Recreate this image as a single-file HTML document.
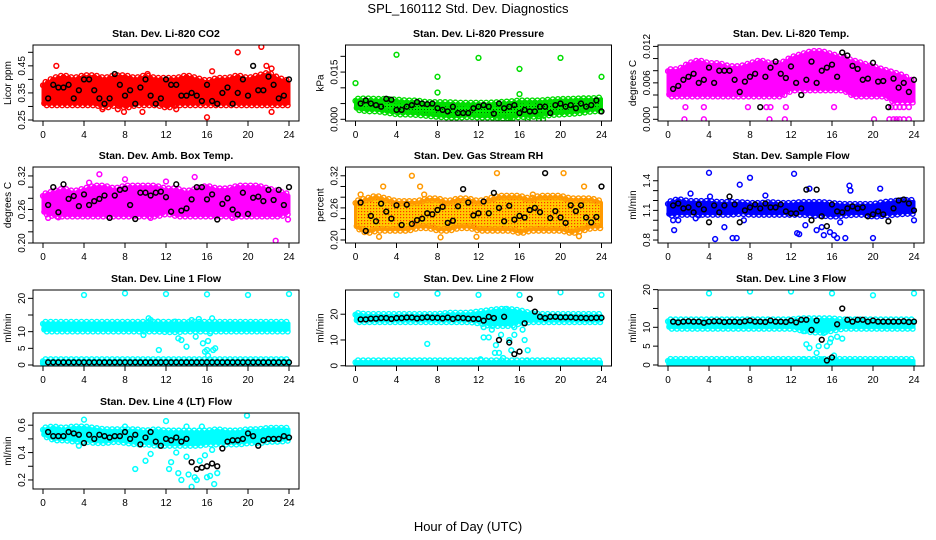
<!DOCTYPE html>
<html><head><meta charset="utf-8">
<style>
html,body{margin:0;padding:0;background:#fff;}
svg{display:block;font-family:"Liberation Sans",sans-serif;}
</style></head>
<body>
<svg id="chart" width="936" height="540" viewBox="0 0 936 540">
<defs>
<pattern id="patGreen" width="3" height="3" patternUnits="userSpaceOnUse"><rect width="3" height="3" fill="#00ee00"/><rect x="1" y="1" width="1" height="1" fill="#004400"/></pattern>
<pattern id="patOrange" width="3" height="3" patternUnits="userSpaceOnUse"><rect width="3" height="3" fill="#ffcc00"/><rect x="1" y="1" width="1.2" height="1.2" fill="#ff3300"/></pattern>
</defs>
<text x="468" y="13" text-anchor="middle" font-size="13">SPL_160112  Std. Dev. Diagnostics</text>
<text x="468" y="531" text-anchor="middle" font-size="13">Hour of Day (UTC)</text>
<g id="panels"></g>
</svg>
<script>
const blackHours = [0.5,1,1.5,2,2.5,3,3.5,4,4.5,5,5.5,6,6.5,7,7.5,8,8.5,9,9.5,10,10.5,11,11.5,12,12.5,13,13.5,14,14.5,15,15.5,16,16.5,17,17.5,18,18.5,19,19.5,20,20.5,21,21.5,22,22.5,23,23.5,24];
const bandHours = [0,1,2,3,4,5,6,7,8,9,10,11,12,13,14,15,16,17,18,19,20,21,22,23,24];
const xTicks = [0,4,8,12,16,20,24];

const co2Lo = [0.31,0.31,0.31,0.31,0.31,0.31,0.30,0.31,0.30,0.31,0.31,0.31,0.30,0.31,0.31,0.31,0.31,0.31,0.31,0.31,0.31,0.31,0.31,0.31,0.31];
const co2Hi = [0.38,0.40,0.41,0.40,0.41,0.41,0.40,0.41,0.41,0.40,0.41,0.40,0.40,0.40,0.41,0.40,0.39,0.40,0.40,0.41,0.40,0.41,0.42,0.40,0.39];
const co2OutX = [1.3,16,7.9,9.7,19,21.3,21.8,22.3,22.3,16.5,5.8,13,7.3,10.2];
const co2OutY = [0.45,0.26,0.28,0.28,0.50,0.52,0.45,0.44,0.28,0.43,0.29,0.29,0.29,0.42];
const co2Black = [0.33,0.38,0.37,0.37,0.38,0.33,0.36,0.40,0.40,0.36,0.33,0.31,0.33,0.42,0.38,0.34,0.36,0.31,0.37,0.40,0.34,0.31,0.33,0.40,0.38,0.38,0.34,0.34,0.35,0.34,0.32,0.38,0.32,0.31,0.35,0.37,0.31,0.35,0.40,0.34,0.45,0.36,0.36,0.41,0.38,0.33,0.34,0.40];
const presLo = [0.0035,0.003,0.003,0.0025,0.002,0.002,0.0018,0.0015,0.0012,0.001,0.001,0.0012,0.001,0.001,0.0008,0.0008,0.0012,0.0012,0.0015,0.0018,0.002,0.0022,0.0025,0.003,0.003];
const presHi = [0.006,0.0062,0.006,0.006,0.0058,0.0055,0.0055,0.005,0.005,0.005,0.0048,0.0048,0.0048,0.0048,0.005,0.0052,0.0055,0.0055,0.0055,0.0058,0.006,0.006,0.0062,0.0062,0.0065];
const presOutX = [0,4,8,12,16,20,24,8,16,13.7,14.9,16.8,17.9,18.3,15.1];
const presOutY = [0.0115,0.0205,0.0135,0.0195,0.016,0.0195,0.0135,0.0085,0.008,0,0,0,0,0,0.0005];
const presBlack = [0.005,0.006,0.005,0.0045,0.004,0.0065,0.0062,0.003,0.003,0.004,0.0045,0.0055,0.005,0.0048,0.005,0.0035,0.003,0.0025,0.004,0.002,0.002,0.002,0.0035,0.004,0.0045,0.004,0.0018,0.005,0.0035,0.004,0.0045,0.002,0.003,0.0025,0.0025,0.004,0.004,0.002,0.0045,0.005,0.004,0.0045,0.0035,0.005,0.004,0.0045,0.006,0.0025];
const tempLo = [0.004,0.004,0.004,0.004,0.004,0.004,0.004,0.004,0.004,0.004,0.004,0.004,0.005,0.005,0.005,0.005,0.005,0.005,0.004,0.004,0.004,0.004,0.003,0.003,0.003];
const tempHi = [0.008,0.008,0.009,0.0095,0.009,0.009,0.0085,0.0085,0.009,0.0095,0.009,0.009,0.010,0.0105,0.011,0.011,0.0105,0.010,0.0095,0.009,0.0085,0.008,0.0075,0.007,0.006];
const tempOutX = [1.6,3.5,9.9,11.4,20.1,21.6,22,22.3,22.6,23,23.5,1.7,3.5,7.8,9.6,10,11.5,16.2,21.8,22.2,22.6,23,23.5,0.3];
const tempOutY = [0,0,0,0,0,0,0,0,0,0,0,0.002,0.002,0.002,0.002,0.002,0.002,0.002,0.002,0.002,0.002,0.002,0.002,0.0065];
const tempBlack = [0.005,0.0055,0.0065,0.007,0.0075,0.006,0.0065,0.0085,0.006,0.008,0.008,0.008,0.0065,0.0045,0.0062,0.007,0.0075,0.002,0.007,0.0085,0.0095,0.0075,0.0068,0.0087,0.006,0.004,0.0065,0.0095,0.006,0.008,0.0085,0.009,0.007,0.011,0.0105,0.0088,0.0083,0.0065,0.0067,0.0093,0.0062,0.0063,0.002,0.0067,0.0052,0.006,0.0045,0.0065];
const ambLo = [0.255,0.25,0.25,0.25,0.25,0.25,0.25,0.25,0.25,0.25,0.25,0.25,0.255,0.25,0.25,0.25,0.25,0.25,0.25,0.25,0.25,0.25,0.25,0.25,0.255];
const ambHi = [0.285,0.29,0.295,0.29,0.295,0.30,0.30,0.295,0.30,0.30,0.30,0.30,0.295,0.295,0.29,0.295,0.30,0.295,0.295,0.30,0.30,0.30,0.295,0.29,0.285];
const ambOutX = [22.7,5.5,8,12,14.8,4.5,23.9,10.5,18.5,0.5,1.5];
const ambOutY = [0.204,0.323,0.314,0.31,0.318,0.308,0.242,0.245,0.245,0.245,0.246];
const ambBlack = [0.268,0.30,0.255,0.305,0.279,0.284,0.266,0.287,0.268,0.275,0.279,0.285,0.245,0.285,0.295,0.297,0.268,0.243,0.29,0.29,0.285,0.29,0.292,0.282,0.256,0.305,0.258,0.262,0.278,0.30,0.30,0.278,0.287,0.242,0.27,0.28,0.26,0.251,0.29,0.252,0.281,0.283,0.275,0.295,0.277,0.295,0.268,0.30];
const rhLo = [0.225,0.215,0.22,0.22,0.22,0.22,0.225,0.225,0.22,0.22,0.225,0.225,0.22,0.22,0.22,0.22,0.215,0.22,0.22,0.22,0.22,0.215,0.22,0.225,0.225];
const rhHi = [0.27,0.275,0.28,0.275,0.27,0.27,0.27,0.275,0.275,0.27,0.275,0.275,0.27,0.275,0.28,0.28,0.28,0.275,0.28,0.28,0.28,0.275,0.275,0.275,0.27];
const rhOutX = [5.5,6.3,13.8,20.3,22.3,2.7,0.5,6.7,8.3,2.3,17.3,21.8,11.8];
const rhOutY = [0.32,0.30,0.325,0.325,0.30,0.30,0.285,0.285,0.205,0.206,0.285,0.207,0.206];
const rhBlack = [0.27,0.217,0.245,0.235,0.268,0.253,0.24,0.265,0.228,0.266,0.23,0.237,0.24,0.25,0.248,0.256,0.262,0.232,0.236,0.263,0.295,0.27,0.246,0.25,0.272,0.25,0.288,0.26,0.235,0.264,0.238,0.245,0.242,0.256,0.26,0.252,0.325,0.241,0.254,0.242,0.232,0.265,0.254,0.265,0.242,0.233,0.243,0.30];
const sfLo = [1.06,1.07,1.07,1.07,1.07,1.07,1.07,1.08,1.07,1.07,1.07,1.07,1.07,1.07,1.06,1.06,1.05,1.06,1.07,1.07,1.05,1.06,1.07,1.08,1.08];
const sfHi = [1.17,1.2,1.18,1.18,1.18,1.17,1.17,1.17,1.16,1.16,1.17,1.16,1.16,1.17,1.17,1.17,1.16,1.15,1.15,1.15,1.15,1.17,1.18,1.19,1.19];
const sfOutX = [0.6,0.5,1,2.2,4,4.6,5.5,6.3,6.7,7,8,7.4,12.3,12.6,12.8,9.5,13.8,15.2,16.2,16.5,17.3,17.7,17.8,20,20.7,24,4.1,3,2.7,13.4,14.5,15,15.8,16.8];
const sfOutY = [0.9,1.0,1.0,1.27,1.48,0.81,0.93,0.82,0.82,1.36,1.43,1.0,1.47,0.87,0.86,1.25,1.32,0.85,0.85,0.82,0.82,1.35,1.3,0.82,1.32,1.0,1.24,1.05,1.02,0.95,0.9,0.93,0.88,0.98];
const sfBlack = [1.15,1.17,1.12,1.13,1.08,1.16,1.11,0.98,1.15,1.08,1.15,1.24,1.16,0.98,1.1,1.13,1.16,1.12,1.17,1.13,1.13,1.16,1.09,1.07,1.07,1.12,1.31,1.0,1.31,1.04,0.94,1.16,1.09,1.08,1.12,1.14,1.12,1.13,1.04,1.06,1.09,1.06,0.99,1.12,1.2,1.21,1.17,1.1];
const l1Lo = [10.5,10.5,10.5,10.5,10.5,10.5,10.5,10.5,10.5,10.5,10.5,10.5,10.3,10.3,10.5,10.5,10.5,10.5,10.5,10.5,10.5,10.5,10.5,10.5,10.5];
const l1Hi = [12.5,12.5,12.5,12.5,12.5,12.5,12.5,12.5,12.5,12.5,12.5,12.5,12.5,12.5,12.5,12.5,12.5,12.5,12.5,12.5,12.5,12.5,12.5,12.5,12.5];
const l1Lo2 = [0.3,0.3,0.3,0.3,0.3,0.3,0.3,0.3,0.3,0.3,0.3,0.3,0.3,0.3,0.3,0.3,0.3,0.3,0.3,0.3,0.3,0.3,0.3,0.3,0.3];
const l1Hi2 = [1.3,1.3,1.3,1.3,1.3,1.3,1.3,1.3,1.3,1.3,1.3,1.3,1.3,1.3,1.3,1.3,1.3,1.3,1.3,1.3,1.3,1.3,1.3,1.3,1.3];
const l1OutX = [4,8,12,16,20,24,0,10.5,11.2,11.3,12.9,13.2,13.5,14.5,14.9,15.2,15.6,15.8,16,16.1,16.3,16.5,16.6,16.8,9.8,10.3,14,16.1];
const l1OutY = [21,21.5,21.3,21.2,21,21.3,0.5,13.5,13,4.5,13,8,7.5,13.5,8.5,13.8,6.5,4,4.5,7.2,9.5,14,4.5,5,9,14,5.5,2.8];
const l1Black = [0.8,0.8,0.8,0.8,0.8,0.8,0.8,0.8,0.8,0.8,0.8,0.8,0.8,0.8,0.8,0.8,0.8,0.8,0.8,0.8,0.8,0.8,0.8,0.8,0.8,0.8,0.8,0.8,0.8,0.8,0.8,0.8,0.8,0.8,0.8,0.8,0.8,0.8,0.8,0.8,0.8,0.8,0.8,0.8,0.8,0.8,0.8,0.8];
const l2Lo = [17.5,17.5,17.5,17.5,17.5,17.5,17.5,17.5,17.5,17.5,17.5,17.5,17,16,16,16,17,17.5,17.5,17.5,17.5,17.5,17.5,17.5,17.5];
const l2Hi = [20,19.5,19.5,19.5,19.5,19.5,19.5,19.5,19.5,20,20,20,20.5,21,21.5,21.5,21,20,19.5,19.5,19.5,19.5,19.5,19.5,19.5];
const l2Lo2 = [0,0,0,0,0,0,0,0,0,0,0,0,0,0,0,0,0,0,0,0,0,0,0,0,0];
const l2Hi2 = [1.5,1.5,1.5,1.5,1.5,1.5,1.5,1.5,1.5,1.5,1.5,1.5,1.5,1.5,1.5,1.5,1.5,1.5,1.5,1.5,1.5,1.5,1.5,1.5,1.5];
const l2OutX = [4,8,12,16,20,24,7,12.2,12.5,13,13.3,13.6,13.7,14,14.2,14.4,14.6,15,15.2,15.5,16.3,16.5,16.7,12.5,14.3,15.5,16.8,13.3,14.9];
const l2OutY = [27.5,28,27.5,27.5,28.5,27.5,8.5,2.5,11,11,14,5,8,5,12,3,22,10,6,15,14,10,2,15,17,12,6,20,18];
const l2Black = [18,18,18.3,18.3,18.5,18.5,18.2,18.5,18.5,18.7,18.7,18.4,18.6,18.8,18.6,18.6,18.4,18.7,18.2,18.6,18.5,18.3,18.2,18.2,17.5,19,18.5,10,19,9,4.5,5.5,16.5,26,21,19,18.5,19,19,18.8,18.8,18.8,18.6,18.6,18.5,18.5,18.6,18.6];
const l3Lo = [10,10,10,10,10,10,10,10,10,10,10,10,10,9.5,9,9,9.5,10,10,10,10,10,10,10,10];
const l3Hi = [11.7,11.7,11.7,11.7,11.7,11.7,11.7,11.7,11.7,11.7,11.7,11.7,11.7,12,12,12,12,11.7,11.7,11.7,11.7,11.7,11.7,11.7,11.7];
const l3Lo2 = [0.2,0.2,0.2,0.2,0.2,0.2,0.2,0.2,0.2,0.2,0.2,0.2,0.2,0.2,0.2,0.2,0.2,0.2,0.2,0.2,0.2,0.2,0.2,0.2,0.2];
const l3Hi2 = [1.2,1.2,1.2,1.2,1.2,1.2,1.2,1.2,1.2,1.2,1.2,1.2,1.2,1.2,1.2,1.2,1.2,1.2,1.2,1.2,1.2,1.2,1.2,1.2,1.2];
const l3OutX = [4,8,12,16,20,24,13.2,13.5,13.8,14.5,14.7,15,15.2,15.5,15.8,15.9,16.2,16.5,17,13.2,14.2];
const l3OutY = [19,19.5,19.5,19,18.5,19,9,5.5,4.5,3.2,5,1.5,8.5,5,6,7,2.5,7.5,7,1.5,1.5];
const l3Black = [11.5,11.3,11.5,11.6,11.5,11.5,11.2,11.5,11.6,11.6,11.4,11.5,11.5,11.4,11.6,11.8,11.5,11.5,11.4,11.8,11.5,11.5,11.4,11.8,11.3,12,12,9.3,11.8,6.7,1.2,2,10.8,15,12,11.5,12,12,11.5,11.8,11.5,11.5,11.5,11.5,11.5,11.6,11.4,11.5];
const l4Lo = [0.53,0.5,0.5,0.49,0.49,0.48,0.48,0.49,0.48,0.47,0.47,0.46,0.46,0.46,0.46,0.46,0.47,0.47,0.47,0.47,0.48,0.48,0.49,0.49,0.5];
const l4Hi = [0.57,0.58,0.57,0.58,0.58,0.57,0.56,0.56,0.56,0.56,0.55,0.56,0.55,0.55,0.55,0.55,0.55,0.56,0.55,0.55,0.56,0.56,0.57,0.57,0.57];
const l4OutX = [4,8,9.5,12,14,15.5,19.9,10.5,12.5,13,13.5,14,14.2,14.8,15,15.3,15.8,16,16.3,16.7,17,10,9,12.3,13.2,14.5,16.5,3.5];
const l4OutY = [0.64,0.59,0.5,0.63,0.59,0.59,0.67,0.39,0.33,0.4,0.2,0.37,0.24,0.22,0.2,0.34,0.38,0.22,0.23,0.17,0.25,0.34,0.28,0.28,0.25,0.15,0.42,0.45];
const l4Black = [0.55,0.52,0.52,0.52,0.55,0.54,0.53,0.47,0.53,0.5,0.53,0.52,0.51,0.52,0.52,0.55,0.5,0.53,0.46,0.51,0.55,0.48,0.45,0.5,0.49,0.51,0.48,0.5,0.33,0.28,0.29,0.3,0.32,0.3,0.43,0.48,0.49,0.49,0.5,0.54,0.52,0.45,0.49,0.5,0.5,0.5,0.52,0.51];

const NS = 'http://www.w3.org/2000/svg';
const root = document.getElementById('panels');
function mk(tag, attrs, parent){const e=document.createElementNS(NS,tag);for(const k in attrs)e.setAttribute(k,attrs[k]);parent.appendChild(e);return e;}

const colLeft=[33,345.5,658], rowTop=[45,167,290,413], W=266, H=76;
const panels=[
 {name:'co2',title:'Stan. Dev. Li-820 CO2',ylab:'Licor ppm',col:0,row:0,d:[0.2463,0.527],ticks:[0.25,0.30,0.35,0.40,0.45,0.50],labels:[0.25,0.35,0.45],fmt:2,color:'#ff0000',fill:'#ff0000',lo:co2Lo,hi:co2Hi,ox:co2OutX,oy:co2OutY,bk:co2Black},
 {name:'pressure',title:'Stan. Dev. Li-820 Pressure',ylab:'kPa',col:1,row:0,d:[-0.00054,0.0236],ticks:[0,0.005,0.010,0.015,0.020],labels:[0,0.015],fmt:3,color:'#00dd00',fill:'url(#patGreen)',lo:presLo,hi:presHi,ox:presOutX,oy:presOutY,bk:presBlack},
 {name:'li820-temp',title:'Stan. Dev. Li-820 Temp.',ylab:'degrees C',col:2,row:0,d:[-0.00028,0.01223],ticks:[0,0.002,0.004,0.006,0.008,0.010,0.012],labels:[0,0.006,0.012],fmt:3,color:'#ff00ff',fill:'#ff00ff',lo:tempLo,hi:tempHi,ox:tempOutX,oy:tempOutY,bk:tempBlack},
 {name:'amb-box-temp',title:'Stan. Dev. Amb. Box Temp.',ylab:'degrees C',col:0,row:1,d:[0.2,0.336],ticks:[0.20,0.22,0.24,0.26,0.28,0.30,0.32],labels:[0.20,0.26,0.32],fmt:2,color:'#ff00ff',fill:'#ff00ff',lo:ambLo,hi:ambHi,ox:ambOutX,oy:ambOutY,bk:ambBlack},
 {name:'gas-stream-rh',title:'Stan. Dev. Gas Stream RH',ylab:'percent',col:1,row:1,d:[0.1944,0.3364],ticks:[0.20,0.22,0.24,0.26,0.28,0.30,0.32],labels:[0.20,0.26,0.32],fmt:2,color:'#ff9900',fill:'url(#patOrange)',lo:rhLo,hi:rhHi,ox:rhOutX,oy:rhOutY,bk:rhBlack},
 {name:'sample-flow',title:'Stan. Dev. Sample Flow',ylab:'ml/min',col:2,row:1,d:[0.77,1.539],ticks:[0.8,0.9,1.0,1.1,1.2,1.3,1.4],labels:[0.8,1.1,1.4],fmt:1,color:'#0000ff',fill:'#0000ff',lo:sfLo,hi:sfHi,ox:sfOutX,oy:sfOutY,bk:sfBlack},
 {name:'line1-flow',title:'Stan. Dev. Line 1 Flow',ylab:'ml/min',col:0,row:2,d:[-0.3,22.5],ticks:[0,5,10,15,20],labels:[0,5,10,20],fmt:0,color:'#00ffff',fill:'#00ffff',lo:l1Lo,hi:l1Hi,lo2:l1Lo2,hi2:l1Hi2,ox:l1OutX,oy:l1OutY,bk:l1Black},
 {name:'line2-flow',title:'Stan. Dev. Line 2 Flow',ylab:'ml/min',col:1,row:2,d:[-0.1,29.4],ticks:[0,10,20],labels:[0,10,20],fmt:0,color:'#00ffff',fill:'#00ffff',lo:l2Lo,hi:l2Hi,lo2:l2Lo2,hi2:l2Hi2,ox:l2OutX,oy:l2OutY,bk:l2Black},
 {name:'line3-flow',title:'Stan. Dev. Line 3 Flow',ylab:'ml/min',col:2,row:2,d:[-0.27,19.9],ticks:[0,5,10,15,20],labels:[0,5,10,20],fmt:0,color:'#00ffff',fill:'#00ffff',lo:l3Lo,hi:l3Hi,lo2:l3Lo2,hi2:l3Hi2,ox:l3OutX,oy:l3OutY,bk:l3Black},
 {name:'line4-flow',title:'Stan. Dev. Line 4 (LT) Flow',ylab:'ml/min',col:0,row:3,d:[0.134,0.689],ticks:[0.2,0.3,0.4,0.5,0.6],labels:[0.2,0.4,0.6],fmt:1,color:'#00ffff',fill:'#00ffff',lo:l4Lo,hi:l4Hi,ox:l4OutX,oy:l4OutY,bk:l4Black}
];

panels.forEach(p=>{
  const L=colLeft[p.col], T=rowTop[p.row], B=T+H;
  const xs=h=>L+10+h*(W-20)/24;
  const ys=v=>B-(v-p.d[0])/(p.d[1]-p.d[0])*H;
  const g=mk('g',{},root);
  
  
  const clip='clip-'+p.name;
  const cp=mk('clipPath',{id:clip},g); mk('rect',{x:L,y:T,width:W,height:H},cp);
  const marks=mk('g',{'clip-path':'url(#'+clip+')'},g);
  function band(lo,hi,nm){
    let d='M';
    bandHours.forEach((h,i)=>{d+=xs(h).toFixed(1)+','+ys(hi[i]).toFixed(1)+' L';});
    for(let i=bandHours.length-1;i>=0;i--){d+=xs(bandHours[i]).toFixed(1)+','+ys(lo[i]).toFixed(1)+(i?' L':' Z');}
    const poly=mk('path',{d:d,fill:p.fill,stroke:p.color,'stroke-width':3,'stroke-linejoin':'round'},marks);
    
    
    // edge circles for texture
    for(let i=0;i<bandHours.length-1;i++){
      for(let k=0;k<4;k++){
        const f=k/4, h=bandHours[i]+f;
        const vh=hi[i]+(hi[i+1]-hi[i])*f, vl=lo[i]+(lo[i+1]-lo[i])*f;
        const off=(k%2?1.5:-0.5);
        const c1=mk('circle',{cx:xs(h),cy:ys(vh)-off,r:2.4,fill:'none',stroke:p.color,'stroke-width':1.4},marks);
        
        
        const c2=mk('circle',{cx:xs(h+0.12),cy:ys(vl)+off,r:2.4,fill:'none',stroke:p.color,'stroke-width':1.4},marks);
        
        
      }
    }
  }
  band(p.lo,p.hi,'point-cloud-band');
  if(p.lo2) band(p.lo2,p.hi2,'point-cloud-low-band');
  p.ox.forEach((x,i)=>{
    const c=mk('circle',{cx:xs(x),cy:ys(p.oy[i]),r:2.4,fill:'none',stroke:p.color,'stroke-width':1.5},marks);
    
    
  });
  p.bk.forEach((v,i)=>{
    const c=mk('circle',{cx:xs(blackHours[i]),cy:ys(v),r:2.4,fill:'none',stroke:'#000','stroke-width':1.5},marks);
    
    
  });
  const box=mk('rect',{x:L,y:T,width:W,height:H,fill:'none',stroke:'#000','stroke-width':1},g);
  
  
  const t=mk('text',{x:L+W/2,y:T-8,'text-anchor':'middle','font-size':10.5,'font-weight':'bold'},g);
  t.textContent=p.title;
  
  
  const xa=mk('g',{},g);
  
  
  mk('line',{x1:xs(0),x2:xs(24),y1:B,y2:B,stroke:'#000'},xa);
  xTicks.forEach(h=>{
    mk('line',{x1:xs(h),x2:xs(h),y1:B,y2:B+5,stroke:'#000'},xa);
    const tl=mk('text',{x:xs(h),y:B+17,'text-anchor':'middle','font-size':10},xa);
    tl.textContent=h;
    
    
  });
  const ya=mk('g',{},g);
  
  
  mk('line',{x1:L,x2:L,y1:ys(p.ticks[0]),y2:ys(p.ticks[p.ticks.length-1]),stroke:'#000'},ya);
  p.ticks.forEach(v=>{mk('line',{x1:L-5,x2:L,y1:ys(v),y2:ys(v),stroke:'#000'},ya);});
  p.labels.forEach(v=>{
    const yy=ys(v), xx=L-8;
    const tl=mk('text',{x:xx,y:yy,'text-anchor':'middle','font-size':10,transform:'rotate(-90 '+xx+' '+yy+')'},ya);
    tl.textContent=v.toFixed(p.fmt);
    
    
  });
  const yt=mk('text',{x:L-22,y:T+H/2,'text-anchor':'middle','font-size':10,transform:'rotate(-90 '+(L-22)+' '+(T+H/2)+')'},ya);
  yt.textContent=p.ylab;
  
  
});
</script>
</body></html>
